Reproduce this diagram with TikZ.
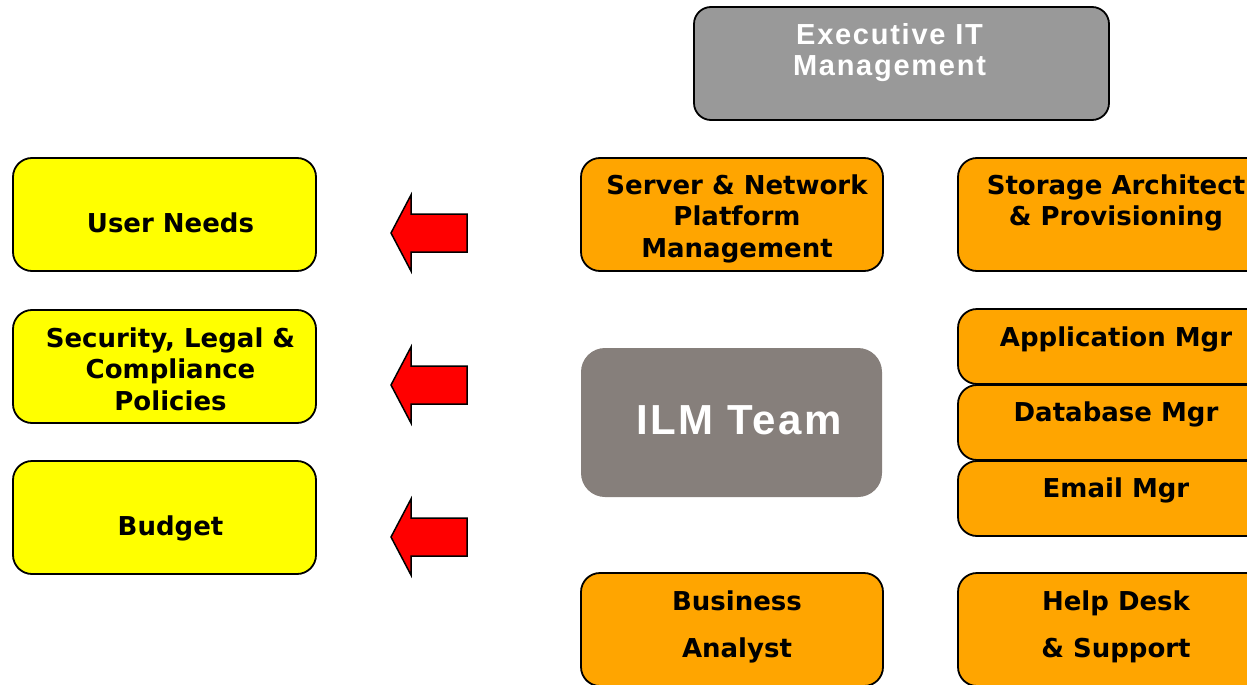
\documentclass[tikz,border=0pt]{standalone}
\usepackage{fontspec}
\setmainfont{DejaVu Sans}
\newfontfamily\arialb{Liberation Sans}[LetterSpace=6]
\definecolor{boxyellow}{HTML}{FFFF00}
\definecolor{boxorange}{HTML}{FFA500}
\definecolor{execgray}{HTML}{999999}
\definecolor{ilmgray}{HTML}{867F7B}
\definecolor{arrowred}{HTML}{FF0000}
% box text: width, height, top gap, content, left inset (moves text right by half of it)
\newcommand{\bt}[5]{\hbox{\hspace*{#5pt}\parbox[c][#2pt][t]{\dimexpr#1pt-#5pt\relax}{\centering\vspace*{#3pt}#4\par}}}
\tikzset{
  box/.style={draw=black, line width=1.8pt, rounded corners=19pt, inner sep=0pt, outer sep=0pt, anchor=north west},
  ybox/.style={box, fill=boxyellow},
  obox/.style={box, fill=boxorange},
  txt/.style={font=\fontsize{26}{31.5}\selectfont\bfseries},
  redarrow/.style={draw=black, line width=1.5pt, fill=arrowred, line join=miter},
}
\begin{document}
\begin{tikzpicture}[x=1pt,y=-1pt]
\useasboundingbox (0,0) rectangle (1247,685);
% executive
\node[box, fill=execgray, rounded corners=17pt, text=white, font=\arialb\fontsize{29}{31}\selectfont\bfseries] (exec) at (694,7)
  {\hbox{\parbox[c][113pt][t]{391pt}{\centering\vspace*{16pt}\strut Executive IT\\Management\par}\hspace*{24pt}}};
% left yellow boxes
\node[ybox, txt] (user) at (13,158) {\bt{303}{113}{52}{\strut User Needs}{12}};
\node[ybox, txt] (sec) at (13,310) {\bt{303}{113}{15}{\strut Security, Legal \&\\Compliance\\Policies}{12}};
\node[ybox, txt] (budget) at (13,461) {\bt{303}{113}{52}{\strut Budget}{12}};
% middle
\node[obox, txt] (server) at (581,158) {\bt{302}{113}{14}{\strut Server \& Network\\Platform\\Management}{10}};
\node[box, draw=none, fill=ilmgray, rounded corners=24pt, text=white, font=\arialb\fontsize{42}{48}\selectfont\bfseries] (ilm) at (581,348)
  {\bt{301}{149}{53}{\strut ILM Team}{15}};
\node[obox, txt] (ba) at (581,573) {\bt{302}{113}{15}{\strut Business\\[16pt]Analyst}{10}};
% right
\node[obox, txt] (storage) at (958,158) {\bt{316}{113}{14}{\strut Storage Architect\\\& Provisioning}{0}};
\node[obox, txt] (app) at (958,309) {\bt{316}{75}{15}{\strut Application Mgr}{0}};
\node[obox, txt] (db) at (958,385) {\bt{316}{75}{14}{\strut Database Mgr}{0}};
\node[obox, txt] (email) at (958,461) {\bt{316}{75}{14}{\strut Email Mgr}{0}};
\node[obox, txt] (help) at (958,573) {\bt{316}{113}{15}{\strut Help Desk\\[16pt]\& Support}{0}};
% arrows
\foreach \c in {233,385,537}{
  \draw[redarrow] (391,\c) -- (411,\c-38) -- (411,\c-19) -- (467,\c-19) -- (467,\c+19) -- (411,\c+19) -- (411,\c+38) -- cycle;
}
\end{tikzpicture}
\end{document}
